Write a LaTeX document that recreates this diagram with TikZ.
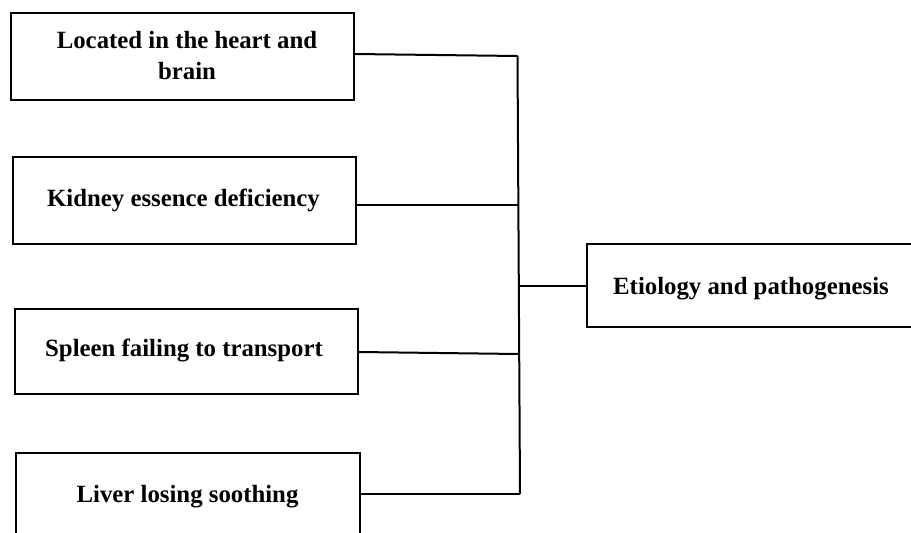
\documentclass[tikz,border=0pt]{standalone}
\usepackage{fontspec}
\setmainfont{Liberation Serif}
\usepackage{tikz}
\tikzset{
	causebox/.style={draw, line width=2pt, anchor=north west, inner sep=0pt,
		align=center, font=\bfseries\fontsize{24.8}{31}\selectfont},
	link/.style={line width=2pt}
}

\begin{document}
\begin{tikzpicture}[x=1pt,y=-1pt]
			\useasboundingbox (0,0) rectangle (911,533);
			\clip (0,0) rectangle (911,533);

			% boxes on the left
			\node[causebox, minimum width=343pt, minimum height=87pt] (heart) at (9.5,11.5) {\hspace*{10pt}Located in the heart and\\ \hspace*{10pt}brain};
			\node[causebox, minimum width=343pt, minimum height=87pt] (kidney) at (12,155.5) {\hspace*{-2pt}Kidney essence deficiency};
			\node[causebox, minimum width=343pt, minimum height=85pt] (spleen) at (13.5,307.5) {\hspace*{-4pt}Spleen failing to transport};
			\node[causebox, minimum width=344pt, minimum height=88pt] (liver) at (14.5,452) {Liver losing soothing};

			% box on the right
			\node[causebox, minimum width=340pt, minimum height=83pt, text height=18pt, text depth=0pt] (etio) at (586,243) {\hspace*{-12pt}Etiology and pathogenesis};

			% trunk
			\coordinate (j1) at (517.5,56);
			\coordinate (j2) at (518,205);
			\coordinate (j3) at (519,354);
			\coordinate (jm) at (519,286);
			\coordinate (j4) at (520,494);

			\draw[link] (j1) -- (j4);
			\draw[link] (heart.east |- 0,54) -- (j1);
			\draw[link] (kidney.east |- 0,205) -- (j2);
			\draw[link] (spleen.east |- 0,352) -- (j3);
			\draw[link] (liver.east |- 0,494) -- (j4);
			\draw[link] (jm) -- (etio.west |- jm);
		\end{tikzpicture}
\end{document}
